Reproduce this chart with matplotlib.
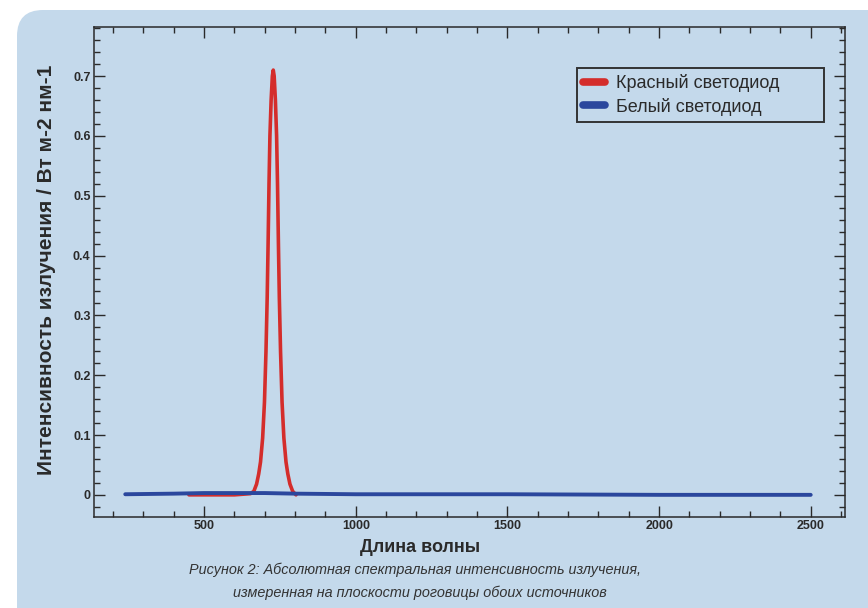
import matplotlib.pyplot as plt
from matplotlib.patches import FancyBboxPatch
from matplotlib.ticker import MultipleLocator

# Spectra (wavelength in nm, W m-2 nm-1)
red_wl = [450, 600, 653, 664, 673, 680, 686, 693, 699, 704, 708, 711, 714, 717,
          721, 725, 728, 731, 735, 739, 742, 745, 748, 752, 757, 763, 770, 776,
          783, 792, 803]
red_val = [0.0, 0.0, 0.002, 0.006, 0.018, 0.035, 0.055, 0.095, 0.155, 0.24,
           0.33, 0.42, 0.52, 0.60, 0.66, 0.70, 0.71, 0.70, 0.66, 0.60, 0.52,
           0.42, 0.33, 0.24, 0.155, 0.095, 0.055, 0.035, 0.018, 0.006, 0.0]

blue_wl = [240, 400, 500, 600, 700, 800, 1000, 1500, 2000, 2500]
blue_val = [0.001, 0.002, 0.003, 0.003, 0.003, 0.002, 0.001, 0.001, 0.0, 0.0]

labels = ['Красный светодиод', 'Белый светодиод']
xticks = [500, 1000, 1500, 2000, 2500]
yticks = [0, 0.1, 0.2, 0.3, 0.4, 0.5, 0.6, 0.7]

bg = '#c4d9eb'
dark = '#2a2a2a'
plt.rcParams['font.family'] = ['Liberation Sans', 'DejaVu Sans']

fig = plt.figure(figsize=(8.68, 6.08), dpi=100)
fig.patch.set_facecolor('white')

# rounded light blue panel behind everything
back = fig.add_axes([0, 0, 1, 1])
back.set_xlim(0, 868)
back.set_ylim(608, 0)
back.axis('off')
r = 26
back.add_patch(FancyBboxPatch((17 + r, 10 + r), 1000, 1000,
                              boxstyle=f'round,pad={r}', fc=bg, ec='none'))

ax = fig.add_axes([0.1083, 0.1497, 0.8652, 0.8059])
ax.set_facecolor('none')
ax.plot(red_wl, red_val, color='#d42d2b', lw=2.6, label=labels[0],
        solid_capstyle='round')
ax.plot(blue_wl, blue_val, color='#2b479d', lw=2.8, label=labels[1],
        solid_capstyle='round')

ax.set_xlim(137, 2613)
ax.set_ylim(-0.037, 0.782)
ax.set_xticks(xticks)
ax.set_yticks(yticks)
ax.set_yticklabels(['0', '0.1', '0.2', '0.3', '0.4', '0.5', '0.6', '0.7'])
ax.xaxis.set_minor_locator(MultipleLocator(100))
ax.yaxis.set_minor_locator(MultipleLocator(0.02))
ax.tick_params(which='both', direction='in', top=True, right=True,
               colors=dark, width=1)
ax.tick_params(which='major', length=8, labelsize=9, pad=2.5)
ax.tick_params(which='minor', length=4)
for t in ax.get_xticklabels() + ax.get_yticklabels():
    t.set_fontweight('bold')
    t.set_color(dark)
for s in ax.spines.values():
    s.set_color(dark)
    s.set_linewidth(1.1)

ax.set_ylabel('Интенсивность излучения / Вт м-2 нм-1', fontsize=15,
              fontweight='bold', color=dark)
ax.yaxis.set_label_coords(-0.051, 0.505)
fig.text(420 / 868, 1 - 548 / 608, 'Длина волны', fontsize=13,
         fontweight='bold', color=dark, ha='center', va='center')
fig.text(415 / 868, 1 - 570 / 608,
         'Рисунок 2: Абсолютная спектральная интенсивность излучения,',
         fontsize=10.4, style='italic', color='#333333', ha='center', va='center')
fig.text(420 / 868, 1 - 593 / 608,
         'измеренная на плоскости роговицы обоих источников',
         fontsize=10.4, style='italic', color='#333333', ha='center', va='center')

leg = ax.legend(loc='upper left', bbox_to_anchor=(0.643, 0.81, 0.329, 0.106),
                mode='expand', borderaxespad=0, fontsize=13, handlelength=1.2,
                handletextpad=0.6, labelspacing=0.28, borderpad=0.35,
                fancybox=False, framealpha=1, facecolor=bg, edgecolor='#333333')
leg.get_frame().set_linewidth(1.4)
for h in leg.get_lines():
    h.set_linewidth(5.5)
    h.set_solid_capstyle('round')
for t in leg.get_texts():
    t.set_color(dark)

fig.savefig('out.png', dpi=100)
